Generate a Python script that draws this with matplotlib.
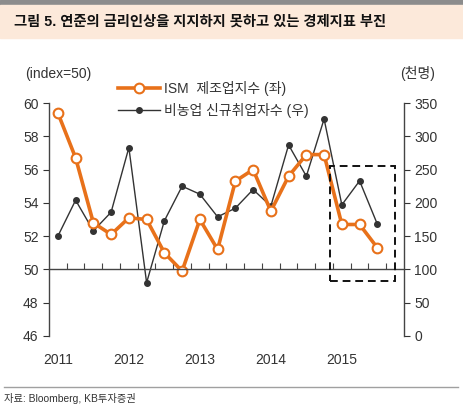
import numpy as np
import matplotlib
matplotlib.use('Agg')
import matplotlib.pyplot as plt
from matplotlib.lines import Line2D
from matplotlib.patches import Rectangle

plt.rcParams['font.family'] = ['Liberation Sans', 'Noto Sans CJK KR']

# 분기별 데이터 (2011Q1 ~ 2015Q3)
years = ['2011', '2012', '2013', '2014', '2015']
ism = [59.4, 56.7, 52.8, 52.1, 53.1, 53.0, 51.0, 49.9, 53.0, 51.2,
       55.3, 56.0, 53.5, 55.6, 56.9, 56.9, 52.7, 52.7, 51.3]
payroll = [150, 204, 158, 186, 283, 80, 173, 225, 213, 179,
           192, 220, 195, 287, 240, 326, 197, 233, 168]

orange = '#E8711A'
dark = '#333333'
txt = '#333333'

fig = plt.figure(figsize=(4.64, 4.15), dpi=100)

# 제목 영역
fig.patches.append(Rectangle((0, 0.988), 1, 0.012, transform=fig.transFigure,
                             color='#8C8C8C', zorder=0))
fig.patches.append(Rectangle((0, 0.9084), 1, 0.0795, transform=fig.transFigure,
                             color='#FCE9DA', zorder=0))
fig.text(0.030, 0.948, '그림 5. 연준의 금리인상을 지지하지 못하고 있는 경제지표 부진',
         fontsize=10.3, fontweight='bold', va='center', ha='left', color='#111111')

ax = fig.add_axes([0.1056, 0.1904, 0.765, 0.5614])
ax2 = ax.twinx()
ax.set_zorder(ax2.get_zorder() + 1)
ax.patch.set_visible(False)

x = np.arange(len(ism))
ax2.plot(x, payroll, color=dark, lw=1.0, marker='o', ms=4,
         mfc=dark, mec=dark)
ax.plot(x, ism, color=orange, lw=2.6, marker='o', ms=7,
        mfc='white', mec=orange, mew=1.5)

ax.set_xlim(-0.5, 19.5)
ax.set_ylim(46, 60)
ax.set_yticks(np.arange(46, 61, 2))
ax2.set_ylim(0, 350)
ax2.set_yticks(np.arange(0, 351, 50))

# x축은 50 수준에 표시
ax.spines['bottom'].set_position(('data', 50))
ax.spines['top'].set_visible(False)
ax.spines['right'].set_visible(False)
ax2.spines['top'].set_visible(False)
ax2.spines['bottom'].set_visible(False)
ax2.spines['left'].set_visible(False)
for sp in [ax.spines['left'], ax.spines['bottom'], ax2.spines['right']]:
    sp.set_color('#444444')
    sp.set_linewidth(1.0)

ax.set_xticks(np.arange(0.5, 19, 1))
ax.tick_params(axis='x', direction='in', length=4, labelbottom=False, color='#444444')
ax.tick_params(axis='y', direction='out', length=4, labelsize=10, colors=txt)
ax2.tick_params(axis='y', direction='out', length=4, labelsize=10, colors=txt)

sec = ax.secondary_xaxis('bottom')
sec.spines['bottom'].set_visible(False)
sec.set_xticks(np.arange(0, 20, 4), years)
sec.tick_params(length=0, pad=12, labelsize=10, labelcolor=txt)

# 2015 강조 박스
ax.add_patch(Rectangle((15.35, 49.3), 3.65, 6.9, fill=False, ls=(0, (4, 2.5)),
                       lw=1.4, ec='#111111', clip_on=False, zorder=5))

fig.text(0.054, 0.822, '(index=50)', fontsize=10, color=txt, va='center')
fig.text(0.862, 0.822, '(천명)', fontsize=10, color=txt, va='center')

handles = [Line2D([], [], color=orange, lw=2.6, marker='o', ms=7,
                  mfc='white', mec=orange, mew=1.5),
           Line2D([], [], color=dark, lw=1.0, marker='o', ms=4, mfc=dark, mec=dark)]
fig.legend(handles, ['ISM  제조업지수 (좌)', '비농업 신규취업자수 (우)'],
           loc='upper left', bbox_to_anchor=(0.255, 0.805), frameon=False,
           fontsize=10, handlelength=3.0, handletextpad=0.3, borderpad=0,
           borderaxespad=0, labelspacing=0.5, labelcolor=txt)

# 하단 출처
fig.add_artist(Line2D([0.0086, 0.987], [0.0675, 0.0675], transform=fig.transFigure,
                      color='#A0A0A0', lw=1.0))
fig.text(0.0086, 0.0386, '자료: Bloomberg, KB투자증권', fontsize=7.4, color=txt, va='center')

fig.savefig('out.png', dpi=100)
